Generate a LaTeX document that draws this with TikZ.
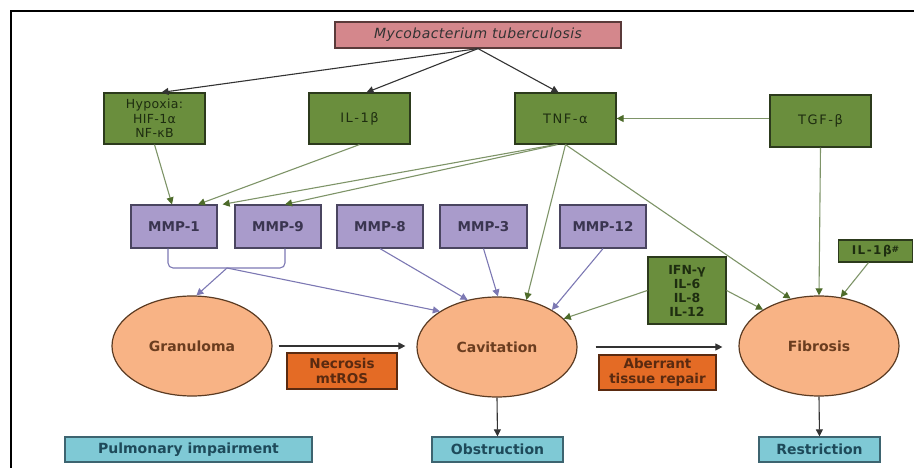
\documentclass[tikz,border=0pt]{standalone}
\usepackage{fontspec}
\setmainfont{DejaVu Sans}
\newfontfamily\widefont[LetterSpace=12]{DejaVu Sans}
\newfontfamily\midfont[LetterSpace=3]{DejaVu Sans}
\usetikzlibrary{arrows.meta,shapes.geometric,calc}
\definecolor{mycofill}{HTML}{D4878C}
\definecolor{mycoborder}{HTML}{5A3A3A}
\definecolor{grfill}{HTML}{6A8E3D}
\definecolor{grborder}{HTML}{2C3A1C}
\definecolor{grtext}{HTML}{1E2D10}
\definecolor{grline}{HTML}{7E9468}
\definecolor{grtip}{HTML}{4D6B2A}
\definecolor{mmpfill}{HTML}{A99BCB}
\definecolor{mmpborder}{HTML}{4A4560}
\definecolor{mmptext}{HTML}{3A3550}
\definecolor{puline}{HTML}{7C78B3}
\definecolor{elfill}{HTML}{F8B385}
\definecolor{elborder}{HTML}{5B3B22}
\definecolor{eltext}{HTML}{6B3D1F}
\definecolor{orfill}{HTML}{E46B25}
\definecolor{orborder}{HTML}{5A2A10}
\definecolor{ortext}{HTML}{5A2A10}
\definecolor{cyfill}{HTML}{7FC9D5}
\definecolor{cyborder}{HTML}{3D6470}
\definecolor{cytext}{HTML}{1E4A5A}
\tikzset{
  box/.style={rectangle, inner sep=0pt, align=center, line width=1.2pt},
  mycobox/.style={box, draw=mycoborder, fill=mycofill, font=\midfont\fontsize{14}{16}\selectfont\itshape, text=black!80},
  greenbox/.style={box, draw=grborder, fill=grfill, font=\widefont\fontsize{13}{15}\selectfont, text=grtext},
  mmpbox/.style={box, draw=mmpborder, fill=mmpfill, font=\fontsize{13.5}{15}\selectfont\bfseries, text=mmptext, minimum width=86pt, minimum height=43pt},
  stage/.style={ellipse, draw=elborder, fill=elfill, line width=1.2pt, minimum width=160pt, minimum height=100pt, inner sep=0pt, font=\fontsize{14}{16}\selectfont\bfseries, text=eltext},
  orbox/.style={box, draw=orborder, fill=orfill, font=\fontsize{13.5}{15}\selectfont\bfseries, text=ortext},
  cybox/.style={box, draw=cyborder, fill=cyfill, font=\fontsize{14}{16}\selectfont\bfseries, text=cytext, minimum height=25pt},
  blk/.style={draw=black!80, line width=1.1pt, -{Triangle[length=7pt,width=7pt]}},
  grn/.style={draw=grline, line width=1.1pt, -{Triangle[length=7pt,width=7pt,color=grtip]}},
  pur/.style={draw=puline, line width=1.1pt, -{Triangle[length=7pt,width=7pt]}},
}
\begin{document}
\begin{tikzpicture}[x=1pt, y=-1pt]
\useasboundingbox (0,0) rectangle (914,468);
\draw[line width=2pt, black] (11,468) -- (11,11) -- (914,11);
% top
\node[mycobox, minimum width=286pt, minimum height=26pt] (myco) at (478,35) {Mycobacterium tuberculosis};
\node[greenbox, minimum width=101pt, minimum height=51pt, font=\midfont\fontsize{12.5}{14.5}\selectfont] (hyp) at (154.5,118.5) {Hypoxia:\\HIF-1α\\NF-κB};
\node[greenbox, minimum width=101pt, minimum height=51pt] (il1) at (359.5,118.5) {IL-1β};
\node[greenbox, minimum width=101pt, minimum height=51pt] (tnf) at (565.5,118.5) {TNF-α};
\node[greenbox, minimum width=101pt, minimum height=52pt] (tgf) at (820.5,121) {TGF-β};
% MMPs
\node[mmpbox] (mmp1) at (174,226.5) {MMP-1};
\node[mmpbox] (mmp9) at (278,226.5) {MMP-9};
\node[mmpbox] (mmp8) at (380,226.5) {MMP-8};
\node[mmpbox, minimum width=87pt] (mmp3) at (483.5,226.5) {MMP-3};
\node[mmpbox] (mmp12) at (603,226.5) {MMP-12};
% other mediators
\node[greenbox, minimum width=78pt, minimum height=67pt, font=\fontsize{12.5}{14}\selectfont\bfseries] (ifn) at (687,290.5) {IFN-γ\\IL-6\\IL-8\\IL-12};
\node[greenbox, minimum width=74pt, minimum height=22pt, font=\widefont\fontsize{12}{13}\selectfont\bfseries] (il1b) at (875.5,251) {IL-1β\raisebox{2pt}{\fontsize{9}{9}\selectfont\#}};
% stages
\node[stage] (gran) at (192,346) {Granuloma};
\node[stage] (cav) at (497,347) {Cavitation};
\node[stage] (fib) at (819,346) {Fibrosis};
\node[orbox, minimum width=110pt, minimum height=36pt] (necro) at (342,371) {Necrosis\\mtROS};
\node[orbox, minimum width=117pt, minimum height=35pt] (aber) at (657.5,372.5) {Aberrant\\tissue repair};
% outcomes
\node[cybox, minimum width=247pt] (pulm) at (188.5,449.5) {Pulmonary impairment};
\node[cybox, minimum width=131pt] (obst) at (497.5,449.5) {Obstruction};
\node[cybox, minimum width=121pt] (restr) at (819.5,449.5) {Restriction};
% black arrows
\draw[blk] (myco.south) -- ([xshift=7pt]hyp.north);
\draw[blk] (myco.south) -- ([xshift=7pt]il1.north);
\draw[blk] (myco.south) -- ([xshift=-7pt]tnf.north);
\draw[blk, shorten <=6pt, shorten >=11pt] (gran.east) -- (cav.west |- gran.east);
\draw[blk, shorten <=18pt, shorten >=16pt] (cav.east) -- (fib.west |- cav.east);
\draw[blk] (cav.south) -- (obst.north);
\draw[blk] (fib.south) -- (restr.north);
% green arrows
\draw[grn] (tgf.west |- tnf.east) -- (tnf.east);
\draw[grn] (hyp.south) -- ([xshift=-2pt]mmp1.north);
\draw[grn] (il1.south) -- ([xshift=24pt]mmp1.north);
\draw[grn] ([xshift=-10pt]tnf.south) -- ([xshift=5pt]mmp1.north east);
\draw[grn] ([xshift=-8pt]tnf.south) -- ([xshift=7pt]mmp9.north);
\draw[grn] (tnf.south) -- (cav.58);
\draw[grn] (tnf.south) -- (fib.121);
\draw[grn] (tgf.south) -- (fib.north);
\draw[grn] ([xshift=-7pt]il1b.south) -- (fib.66);
\draw[grn] (ifn.west) -- (cav.23);
\draw[grn] (ifn.east) -- (fib.147);
% purple arrows
\coordinate (br) at (227,268);
\draw[puline, line width=1.1pt, rounded corners=5pt] ([xshift=-6pt]mmp1.south) -- ([xshift=-6pt]mmp1.south |- br) -- ([xshift=7pt]mmp9.south |- br) -- ([xshift=7pt]mmp9.south);
\draw[pur] (br) -- (gran.85);
\draw[pur] (br) -- (cav.148);
\draw[pur] (mmp8.south) -- (cav.122);
\draw[pur] (mmp3.south) -- (cav.89);
\draw[pur] (mmp12.south) -- (cav.34);
\end{tikzpicture}
\end{document}
